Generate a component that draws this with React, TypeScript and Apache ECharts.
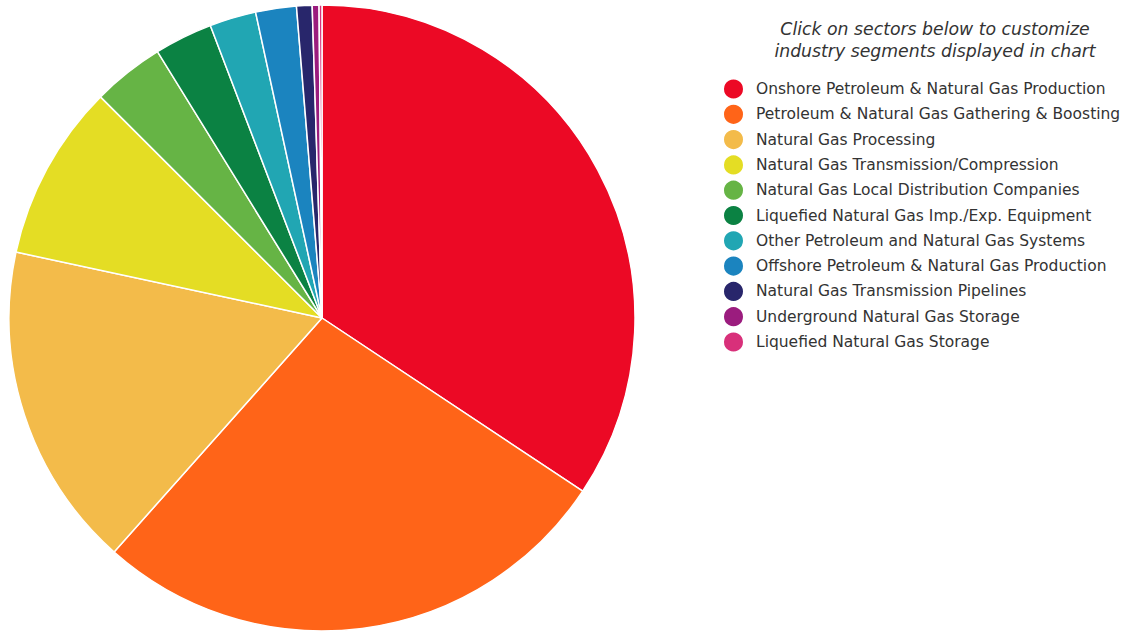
import React, { useEffect, useRef } from "react";
import * as echarts from "echarts";

const categories = [
  "Onshore Petroleum & Natural Gas Production",
  "Petroleum & Natural Gas Gathering & Boosting",
  "Natural Gas Processing",
  "Natural Gas Transmission/Compression",
  "Natural Gas Local Distribution Companies",
  "Liquefied Natural Gas Imp./Exp. Equipment",
  "Other Petroleum and Natural Gas Systems",
  "Offshore Petroleum & Natural Gas Production",
  "Natural Gas Transmission Pipelines",
  "Underground Natural Gas Storage",
  "Liquefied Natural Gas Storage",
];

const values = [34.3, 27.2, 16.8, 9.1, 3.7, 3.0, 2.4, 2.1, 0.8, 0.35, 0.15];

const colors = [
  "#EC0925",
  "#FF6418",
  "#F3BB4A",
  "#E4DD24",
  "#66B445",
  "#0B8243",
  "#21A6B3",
  "#1B84BF",
  "#28266B",
  "#9B1C7E",
  "#D8307A",
];

const titleLines = [
  "Click on sectors below to customize",
  "industry segments displayed in chart",
];

export default function App() {
  const ref = useRef<HTMLDivElement>(null);
  useEffect(() => {
    if (!ref.current) return;
    const chart = echarts.init(ref.current, null, { renderer: "svg" });
    chart.setOption({
      animation: false,
      backgroundColor: "#ffffff",
      color: colors,
      title: {
        text: titleLines.join("\n"),
        left: 935,
        top: 18,
        padding: 0,
        textAlign: "center",
        textStyle: {
          fontFamily: "DejaVu Sans",
          fontStyle: "italic",
          fontWeight: "normal",
          fontSize: 17.3,
          lineHeight: 22,
          color: "#333333",
        },
      },
      legend: {
        orient: "vertical",
        left: 722,
        top: 77.5,
        padding: 0,
        icon: "circle",
        itemWidth: 21,
        itemHeight: 21,
        itemGap: 2.3,
        data: categories,
        textStyle: {
          fontFamily: "DejaVu Sans",
          fontSize: 15.5,
          lineHeight: 20,
          color: "#333333",
          padding: [0, 0, 0, 7],
        },
      },
      series: [
        {
          type: "pie",
          center: [322, 318],
          radius: 313,
          startAngle: 90,
          clockwise: true,
          avoidLabelOverlap: false,
          label: { show: false },
          labelLine: { show: false },
          itemStyle: { borderColor: "#ffffff", borderWidth: 1.5 },
          emphasis: { disabled: true },
          data: categories.map((name, i) => ({ name, value: values[i] })),
        },
      ],
    });
    return () => chart.dispose();
  }, []);
  return (
    <div
      ref={ref}
      style={{ position: "fixed", left: 0, top: 0, width: 1127, height: 632 }}
    />
  );
}
